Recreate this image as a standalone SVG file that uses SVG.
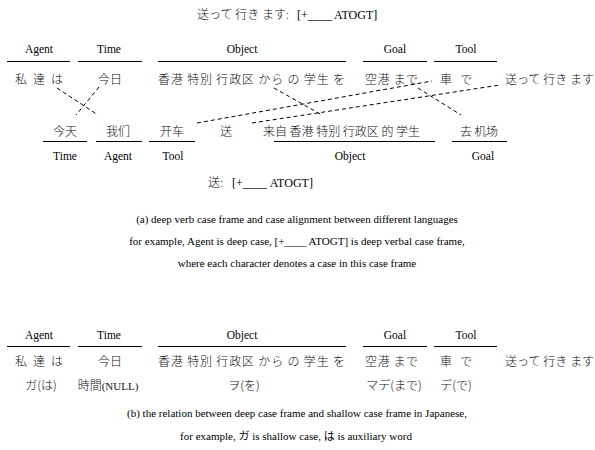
<svg xmlns="http://www.w3.org/2000/svg" width="595" height="450" viewBox="0 0 595 450">
<style>
.lbl{font-family:"Liberation Serif",serif;font-size:11.5px;text-anchor:middle;fill:#000}
.lat{font-family:"Liberation Serif","Noto Sans CJK JP",serif;font-size:12px;fill:#000}
.ja{font-family:"Noto Sans CJK JP",sans-serif;font-size:12px;font-weight:300;fill:#111}
.zh{font-family:"Noto Sans CJK SC",sans-serif;font-size:12px;font-weight:300;fill:#111}
.mid{text-anchor:middle}
.cap{font-family:"Liberation Serif","Noto Sans CJK JP",serif;font-size:11px;text-anchor:middle;fill:#000}
.ul{stroke:#000;stroke-width:1.2}
.dash{stroke:#000;stroke-width:1;stroke-dasharray:4 3;fill:none}
</style>
<rect width="595" height="450" fill="#fff"/>

<g id="title">
<text class="ja" x="197" y="19" textLength="92" lengthAdjust="spacing">送って 行き ます:</text>
<text class="lat" x="297" y="19">[+____ ATOGT]</text>
</g>

<!-- (a) Japanese deep case frame -->
<g id="a-ja-agent">
<text class="lbl" x="39" y="53">Agent</text>
<line class="ul" x1="7" y1="61.5" x2="70" y2="61.5"/>
<text class="ja" x="15" y="84" textLength="48" lengthAdjust="spacing">私 達 は</text>
</g>
<g id="a-ja-time">
<text class="lbl" x="109" y="53">Time</text>
<line class="ul" x1="78" y1="61.5" x2="142" y2="61.5"/>
<text class="ja mid" x="110" y="84">今日</text>
</g>
<g id="a-ja-object">
<text class="lbl" x="242" y="53">Object</text>
<line class="ul" x1="158" y1="61.5" x2="346" y2="61.5"/>
<text class="ja" x="158" y="84" textLength="187" lengthAdjust="spacing">香港 特別 行政区 から の 学生 を</text>
</g>
<g id="a-ja-goal">
<text class="lbl" x="395" y="53">Goal</text>
<line class="ul" x1="363" y1="61.5" x2="427" y2="61.5"/>
<text class="ja" x="365" y="84" textLength="53" lengthAdjust="spacing">空港 まで</text>
</g>
<g id="a-ja-tool">
<text class="lbl" x="466" y="53">Tool</text>
<line class="ul" x1="434" y1="61.5" x2="497" y2="61.5"/>
<text class="ja" x="440" y="84" textLength="32" lengthAdjust="spacing">車 で</text>
</g>
<g id="a-ja-verb">
<text class="ja" x="505" y="84" textLength="89" lengthAdjust="spacing">送って 行き ます</text>
</g>

<!-- (a) Chinese -->
<g id="a-zh-time">
<text class="zh mid" x="65" y="136">今天</text>
<line class="ul" x1="43" y1="141.5" x2="87" y2="141.5"/>
<text class="lbl" x="65" y="160">Time</text>
</g>
<g id="a-zh-agent">
<text class="zh mid" x="118" y="136">我们</text>
<line class="ul" x1="96" y1="141.5" x2="142" y2="141.5"/>
<text class="lbl" x="118" y="160">Agent</text>
</g>
<g id="a-zh-tool">
<text class="zh mid" x="172" y="136">开车</text>
<line class="ul" x1="149" y1="141.5" x2="195" y2="141.5"/>
<text class="lbl" x="173" y="160">Tool</text>
</g>
<g id="a-zh-verb">
<text class="zh mid" x="226" y="136">送</text>
</g>
<g id="a-zh-object">
<text class="zh" x="263" y="136" textLength="157" lengthAdjust="spacing">来自 香港 特别 行政区 的 学生</text>
<line class="ul" x1="274" y1="141.5" x2="435" y2="141.5"/>
<text class="lbl" x="350" y="160">Object</text>
</g>
<g id="a-zh-goal">
<text class="zh" x="460" y="136" textLength="38" lengthAdjust="spacing">去 机场</text>
<line class="ul" x1="452" y1="141.5" x2="507" y2="141.5"/>
<text class="lbl" x="483" y="160">Goal</text>
</g>
<g id="a-zh-frame">
<text class="lat" x="208" y="187"><tspan font-family="Noto Sans CJK SC" font-weight="300">送:</tspan><tspan x="232">[+____ ATOGT]</tspan></text>
</g>

<g id="connectors">
<line class="dash" x1="57" y1="88" x2="98" y2="115"/>
<line class="dash" x1="99" y1="87" x2="76" y2="115"/>
<line class="dash" x1="274" y1="88" x2="322" y2="115"/>
<line class="dash" x1="197" y1="123" x2="432" y2="81"/>
<line class="dash" x1="252" y1="123" x2="500" y2="85"/>
<line class="dash" x1="418" y1="88" x2="461" y2="115"/>
</g>

<g id="caption-a">
<text class="cap" x="297" y="223">(a) deep verb case frame and case alignment between different languages</text>
<text class="cap" x="297" y="245">for example, Agent is deep case, [+____ ATOGT] is deep verbal case frame,</text>
<text class="cap" x="297" y="267">where each character denotes a case in this case frame</text>
</g>

<!-- (b) -->
<g id="b-agent">
<text class="lbl" x="39" y="339">Agent</text>
<line class="ul" x1="7" y1="346.5" x2="70" y2="346.5"/>
<text class="ja" x="15" y="366" textLength="48" lengthAdjust="spacing">私 達 は</text>
<text class="ja mid" x="41" y="390">ガ(は)</text>
</g>
<g id="b-time">
<text class="lbl" x="109" y="339">Time</text>
<line class="ul" x1="78" y1="346.5" x2="142" y2="346.5"/>
<text class="ja mid" x="110" y="366">今日</text>
<text class="ja mid" x="108" y="390">時間<tspan font-family="Liberation Serif" font-weight="400" font-size="11">(NULL)</tspan></text>
</g>
<g id="b-object">
<text class="lbl" x="242" y="339">Object</text>
<line class="ul" x1="158" y1="346.5" x2="346" y2="346.5"/>
<text class="ja" x="158" y="366" textLength="187" lengthAdjust="spacing">香港 特別 行政区 から の 学生 を</text>
<text class="ja mid" x="244" y="390">ヲ(を)</text>
</g>
<g id="b-goal">
<text class="lbl" x="395" y="339">Goal</text>
<line class="ul" x1="363" y1="346.5" x2="427" y2="346.5"/>
<text class="ja" x="365" y="366" textLength="53" lengthAdjust="spacing">空港 まで</text>
<text class="ja mid" x="394" y="390">マデ(まで)</text>
</g>
<g id="b-tool">
<text class="lbl" x="466" y="339">Tool</text>
<line class="ul" x1="434" y1="346.5" x2="497" y2="346.5"/>
<text class="ja" x="440" y="366" textLength="32" lengthAdjust="spacing">車 で</text>
<text class="ja mid" x="456" y="390">デ(で)</text>
</g>
<g id="b-verb">
<text class="ja" x="505" y="366" textLength="89" lengthAdjust="spacing">送って 行き ます</text>
</g>

<g id="caption-b">
<text class="cap" x="297" y="417">(b) the relation between deep case frame and shallow case frame in Japanese,</text>
<text class="cap" x="296" y="440">for example, ガ  is shallow case, は  is auxiliary word</text>
</g>
</svg>
